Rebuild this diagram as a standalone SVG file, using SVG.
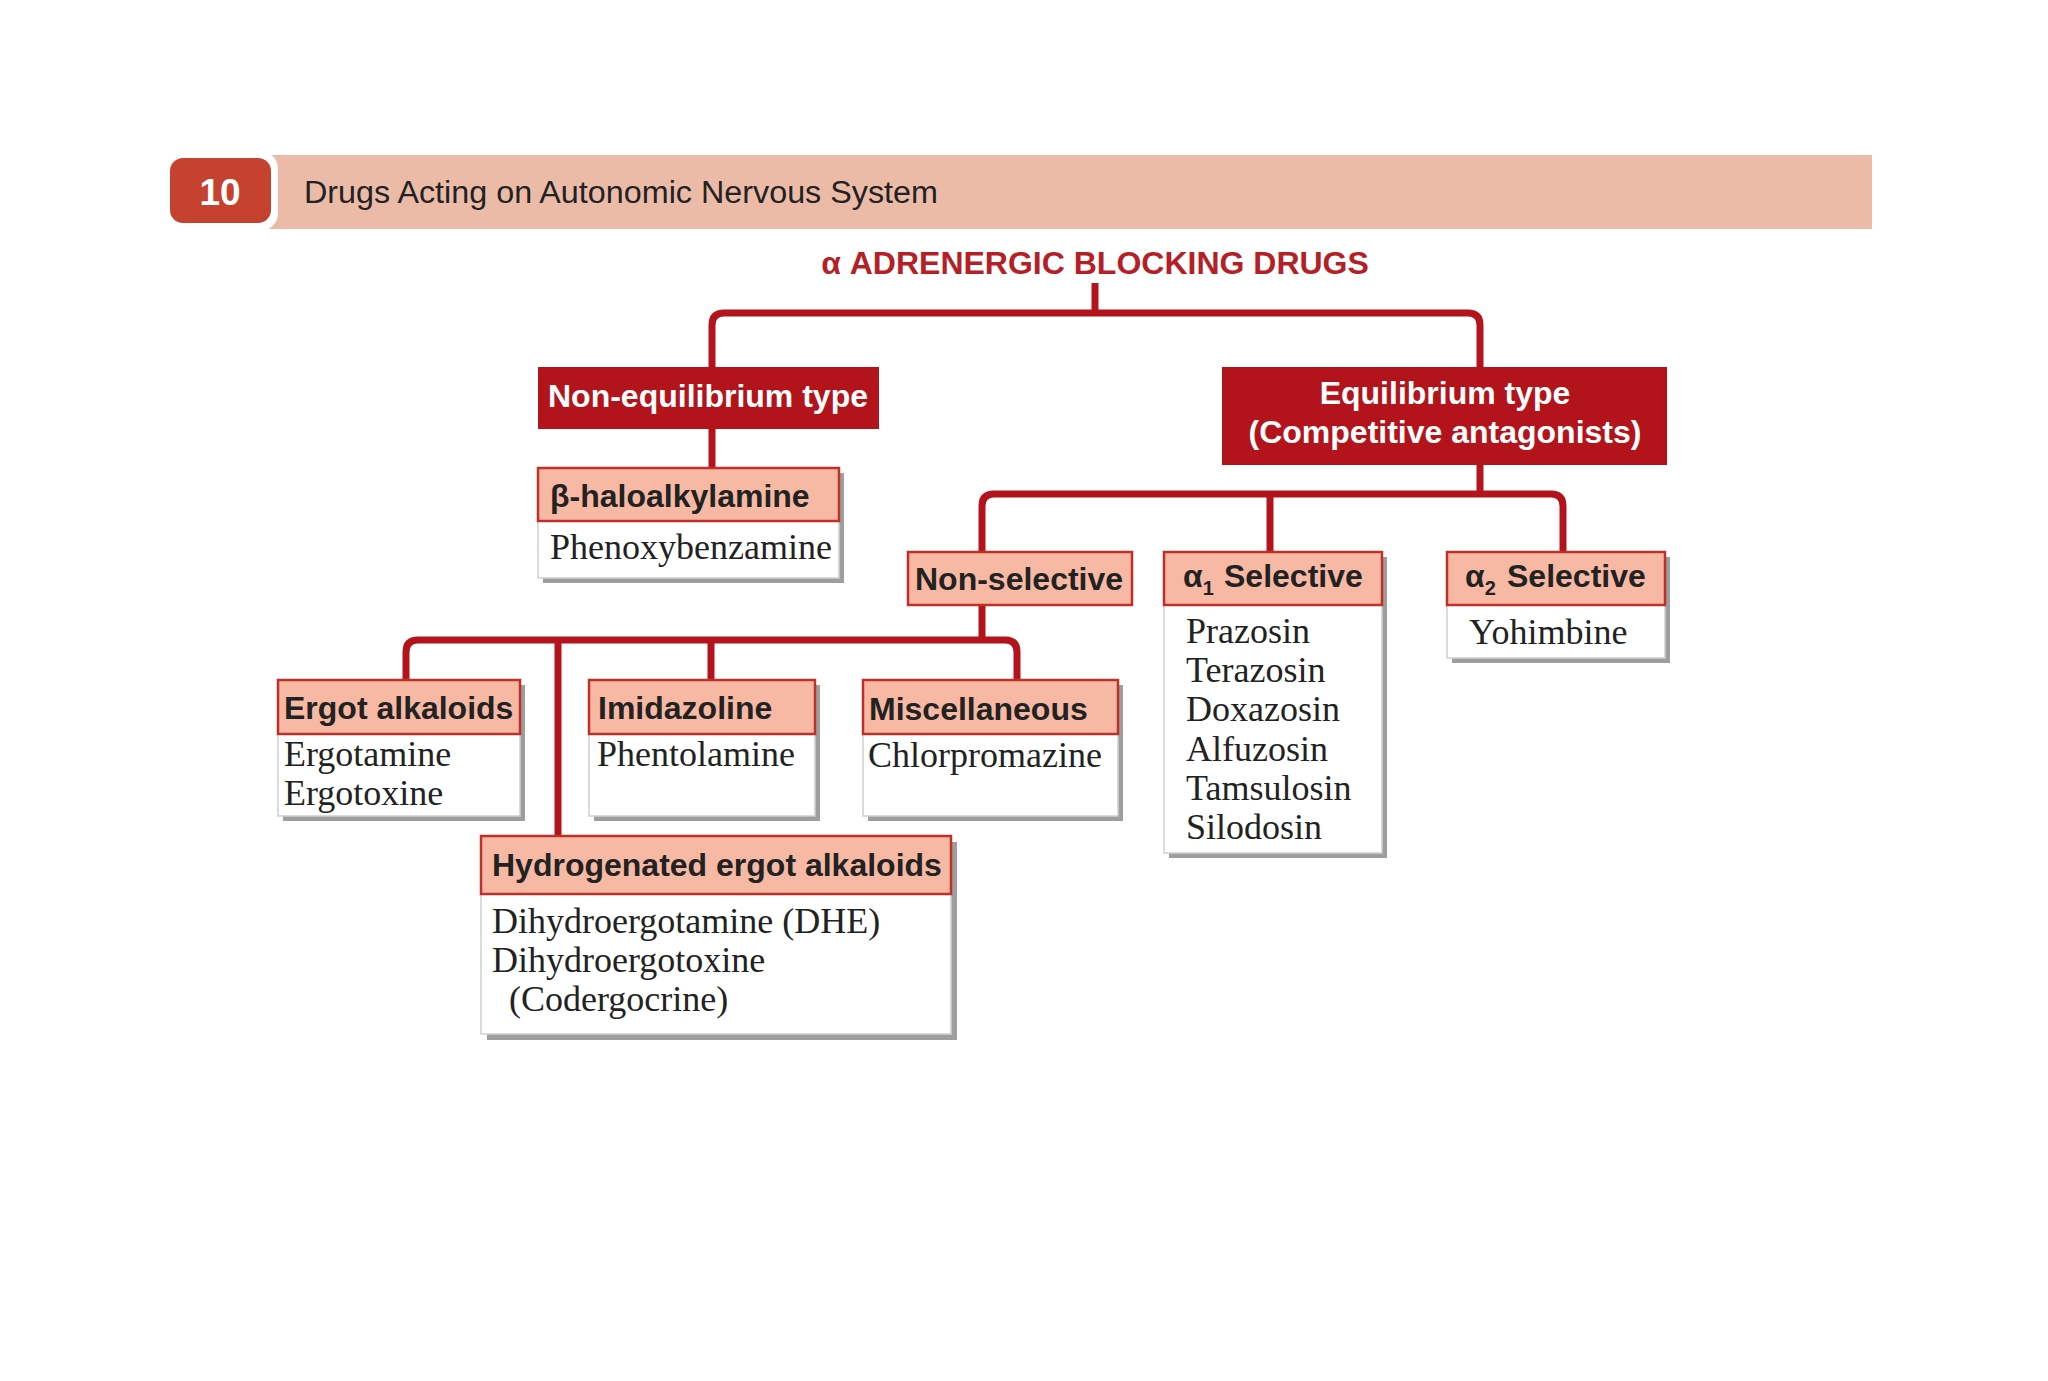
<svg xmlns="http://www.w3.org/2000/svg" width="2048" height="1381" viewBox="0 0 2048 1381">
<style>
.hdr{fill:#F7B9A3;stroke:#C0302B;stroke-width:2.5}
.body{fill:#FFFFFF;stroke:#CFCFCF;stroke-width:1.5}
.shadow{fill:#9E9E9E}
.dark{fill:#B3141C}
.conn{fill:none;stroke:#B3141C;stroke-width:7;stroke-linejoin:round}
.hb{font-family:"Liberation Sans",Arial,sans-serif;font-weight:bold;font-size:32px;fill:#222}
.wt{font-family:"Liberation Sans",Arial,sans-serif;font-weight:bold;font-size:32px;fill:#FFFFFF}
.sr{font-family:"Liberation Serif","Times New Roman",serif;font-size:36px;fill:#222}
.sub{font-size:20px}
</style>
<rect width="2048" height="1381" fill="#FFFFFF"/>

<g id="page-header">
  <rect x="230" y="155" width="1642" height="74" fill="#ECBBA8"/>
  <rect x="163" y="151" width="115" height="80" rx="18" fill="#FFFFFF"/>
  <rect x="170" y="158" width="101" height="65" rx="13" fill="#C4422E"/>
  <text x="220" y="205" text-anchor="middle" font-family="'Liberation Sans',Arial,sans-serif" font-weight="bold" font-size="37" fill="#FFFFFF">10</text>
  <text x="304" y="203" font-family="'Liberation Sans',Arial,sans-serif" font-size="31" fill="#222" textLength="634" lengthAdjust="spacingAndGlyphs">Drugs Acting on Autonomic Nervous System</text>
</g>

<g id="title">
  <text x="1095" y="274" text-anchor="middle" font-family="'Liberation Sans',Arial,sans-serif" font-weight="bold" font-size="32" fill="#B51F27">α ADRENERGIC BLOCKING DRUGS</text>
</g>

<g id="connectors">
  <path class="conn" d="M1095,283 V313"/>
  <path class="conn" d="M712,367 V325 Q712,313 724,313 H1468 Q1480,313 1480,325 V367"/>
  <path class="conn" d="M712,428 V468"/>
  <path class="conn" d="M1480,464 V494"/>
  <path class="conn" d="M982,552 V506 Q982,494 994,494 H1551 Q1563,494 1563,506 V552"/>
  <path class="conn" d="M1270,494 V552"/>
  <path class="conn" d="M982,605 V640"/>
  <path class="conn" d="M406,680 V652 Q406,640 418,640 H1005 Q1017,640 1017,652 V680"/>
  <path class="conn" d="M558,640 V836"/>
  <path class="conn" d="M711,640 V680"/>
</g>

<g id="non-equilibrium">
  <rect class="dark" x="538" y="367" width="341" height="62"/>
  <text class="wt" x="708" y="407" text-anchor="middle">Non-equilibrium type</text>
</g>

<g id="equilibrium">
  <rect class="dark" x="1222" y="367" width="445" height="98"/>
  <text class="wt" x="1445" y="404" text-anchor="middle">Equilibrium type</text>
  <text class="wt" x="1445" y="443" text-anchor="middle">(Competitive antagonists)</text>
</g>

<g id="beta-haloalkylamine">
  <rect class="shadow" x="543" y="473" width="301" height="110"/>
  <rect class="body" x="538" y="521" width="301" height="57"/>
  <rect class="hdr" x="538" y="468" width="301" height="53"/>
  <text class="hb" x="550" y="507">β-haloalkylamine</text>
  <text class="sr" x="550" y="559">Phenoxybenzamine</text>
</g>

<g id="non-selective">
  <rect class="hdr" x="908" y="552" width="224" height="53"/>
  <text class="hb" x="915" y="590">Non-selective</text>
</g>

<g id="alpha1-selective">
  <rect class="shadow" x="1169" y="557" width="218" height="301"/>
  <rect class="body" x="1164" y="605" width="218" height="248"/>
  <rect class="hdr" x="1164" y="552" width="218" height="53"/>
  <text class="hb" x="1183" y="587">α<tspan class="sub" dy="8">1</tspan><tspan x="1224" dy="-8">Selective</tspan></text>
  <text class="sr" x="1186" y="643">Prazosin</text>
  <text class="sr" x="1186" y="682">Terazosin</text>
  <text class="sr" x="1186" y="721">Doxazosin</text>
  <text class="sr" x="1186" y="761">Alfuzosin</text>
  <text class="sr" x="1186" y="800">Tamsulosin</text>
  <text class="sr" x="1186" y="839">Silodosin</text>
</g>

<g id="alpha2-selective">
  <rect class="shadow" x="1452" y="557" width="218" height="106"/>
  <rect class="body" x="1447" y="605" width="218" height="53"/>
  <rect class="hdr" x="1447" y="552" width="218" height="53"/>
  <text class="hb" x="1465" y="587">α<tspan class="sub" dy="8">2</tspan><tspan x="1507" dy="-8">Selective</tspan></text>
  <text class="sr" x="1469" y="644">Yohimbine</text>
</g>

<g id="ergot-alkaloids">
  <rect class="shadow" x="283" y="685" width="242" height="136"/>
  <rect class="body" x="278" y="734" width="242" height="82"/>
  <rect class="hdr" x="278" y="680" width="242" height="54"/>
  <text class="hb" x="284" y="719">Ergot alkaloids</text>
  <text class="sr" x="284" y="766">Ergotamine</text>
  <text class="sr" x="284" y="805">Ergotoxine</text>
</g>

<g id="imidazoline">
  <rect class="shadow" x="594" y="685" width="226" height="136"/>
  <rect class="body" x="589" y="734" width="226" height="82"/>
  <rect class="hdr" x="589" y="680" width="226" height="54"/>
  <text class="hb" x="598" y="719">Imidazoline</text>
  <text class="sr" x="597" y="766">Phentolamine</text>
</g>

<g id="miscellaneous">
  <rect class="shadow" x="868" y="685" width="255" height="136"/>
  <rect class="body" x="863" y="734" width="255" height="82"/>
  <rect class="hdr" x="863" y="680" width="255" height="54"/>
  <text class="hb" x="869" y="720">Miscellaneous</text>
  <text class="sr" x="868" y="767">Chlorpromazine</text>
</g>

<g id="hydrogenated-ergot-alkaloids">
  <rect class="shadow" x="487" y="842" width="470" height="198"/>
  <rect class="body" x="481" y="894" width="470" height="140"/>
  <rect class="hdr" x="481" y="836" width="470" height="58"/>
  <text class="hb" x="492" y="876">Hydrogenated ergot alkaloids</text>
  <text class="sr" x="492" y="933">Dihydroergotamine (DHE)</text>
  <text class="sr" x="492" y="972">Dihydroergotoxine</text>
  <text class="sr" x="509" y="1011">(Codergocrine)</text>
</g>
</svg>
